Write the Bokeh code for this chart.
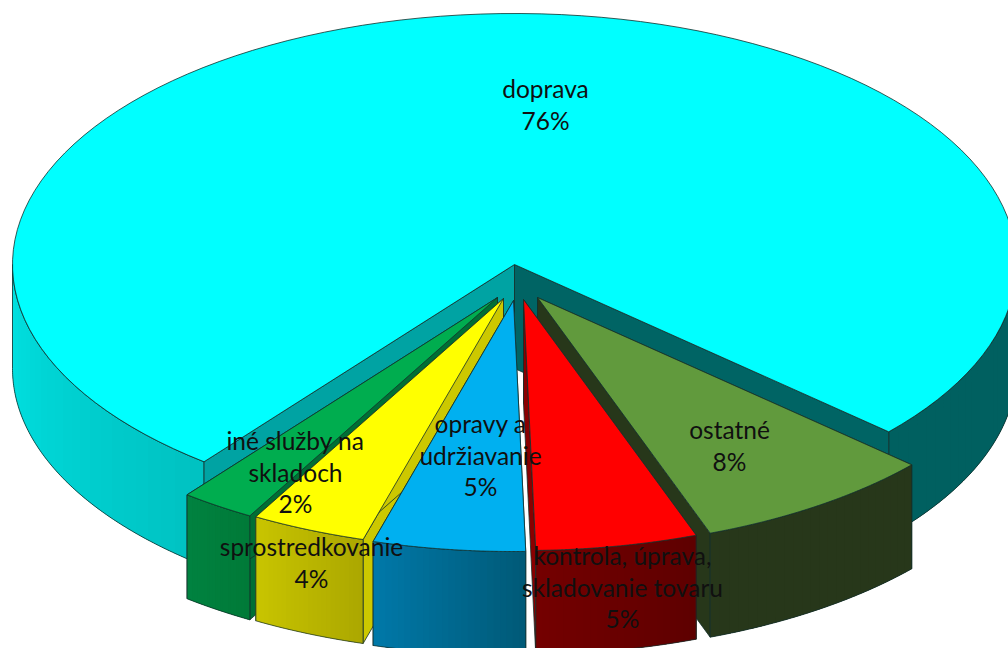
import numpy as np
from bokeh.plotting import figure
from bokeh.embed import file_html
from bokeh.resources import INLINE
from bokeh.core.properties import value

# ---- data ----
categories = ["ostatné", "kontrola, úprava, skladovanie tovaru", "opravy a udržiavanie",
              "sprostredkovanie", "iné služby na skladoch"]
shares = [7.8, 5.2, 4.9, 3.7, 2.4]
main_category = "doprava"
main_share = 76.0
label_lines = {
    "doprava": ["doprava"],
    "ostatné": ["ostatné"],
    "kontrola, úprava, skladovanie tovaru": ["kontrola, úprava,", "skladovanie tovaru"],
    "opravy a udržiavanie": ["opravy a", "udržiavanie"],
    "sprostredkovanie": ["sprostredkovanie"],
    "iné služby na skladoch": ["iné služby na", "skladoch"],
}

# ---- layout and style ----
CX, CY, RX, RY, DEPTH = 514, 264, 502, 251, 104
FIRST_EDGE = 48.2      # degrees from straight down, towards the right
EDGE = "#14302c"
explode = {"ostatné": (23, 33), categories[1]: (9, 35), categories[2]: (-1, 36),
           categories[3]: (-11, 34), categories[4]: (-17, 33)}
style = {  # top, wall gradient start, wall gradient end, radial wall
    "ostatné": ("#619A3D", "#27371A", "#27371A", "#27371A"),
    categories[1]: ("#FF0000", "#740000", "#5E0000", "#8A0000"),
    categories[2]: ("#00B0F0", "#0078A8", "#005A78", "#005A78"),
    categories[3]: ("#FFFF00", "#C8C400", "#ACA800", "#CCC800"),
    categories[4]: ("#00AD4F", "#008240", "#007A38", "#006F35"),
}
label_anchor = {"doprava": (545, 88), "ostatné": (729, 429), categories[1]: (622, 555),
                categories[2]: (480, 423), categories[3]: (311, 546), categories[4]: (295, 440)}
draw_order = [categories[4], categories[3], categories[2], categories[0], categories[1]]
LINE_STEP = 31.5

p = figure(width=1008, height=648, x_range=(0, 1008), y_range=(648, 0),
           output_backend="svg", toolbar_location=None, min_border=0)
p.axis.visible = False
p.grid.visible = False
p.outline_line_color = None
p.background_fill_color = "white"
p.border_fill_color = "white"


def arc(a1, a2, dx=0, dy=0, n=120):
    t = np.radians(np.linspace(a1, a2, n))
    return CX + dx + RX * np.sin(t), CY + dy + RY * np.cos(t)


def poly(xs, ys, fill, line=EDGE, width=0.8):
    p.patch(list(xs), list(ys), fill_color=fill, line_color=line, line_width=width)


def mix(c1, c2, f):
    a = [int(c1[i:i + 2], 16) for i in (1, 3, 5)]
    b = [int(c2[i:i + 2], 16) for i in (1, 3, 5)]
    return "#%02x%02x%02x" % tuple(round(u + (v - u) * f) for u, v in zip(a, b))


def outer_wall(a1, a2, c1, c2, dx=0, dy=0, steps=24):
    """Curved rim between two angles, shaded across its width."""
    x, y = arc(a1, a2, dx, dy)
    xs, ys = list(x) + list(x[::-1]), list(y) + list(y[::-1] + DEPTH)
    p.patch(xs, ys, fill_color=mix(c1, c2, 0.5), line_color=None)
    edges = np.linspace(a1, a2, steps + 1)
    for i in range(steps):
        # each band overlaps the next so that no seam shows between them
        sx, sy = arc(edges[i], edges[min(i + 2, steps)], dx, dy, 10)
        col = mix(c1, c2, i / (steps - 1))
        p.patch(list(sx) + list(sx[::-1]), list(sy) + list(sy[::-1] + DEPTH),
                fill_color=col, line_color=None)
    p.patch(xs, ys, fill_color=None, line_color=EDGE, line_width=0.8)


def radial_wall(a, fill, dx=0, dy=0):
    x, y = arc(a, a, dx, dy, 1)
    ax, ay = CX + dx, CY + dy
    poly([ax, x[0], x[0], ax], [ay, y[0], y[0] + DEPTH, ay + DEPTH], fill)


def top(a1, a2, fill, dx=0, dy=0):
    x, y = arc(a1, a2, dx, dy)
    poly([CX + dx] + list(x), [CY + dy] + list(y), fill)


# ---- main slice ----
to_deg = 360 / (sum(shares) + main_share)
last_edge = FIRST_EDGE - sum(shares) * to_deg
outer_wall(90, FIRST_EDGE, "#006060", "#006060")
outer_wall(-90, last_edge, "#00E2E2", "#00C2C2")
radial_wall(last_edge, "#00A3A3")
radial_wall(FIRST_EDGE, "#006464")
top(FIRST_EDGE, 360 + last_edge, "#00FFFF")

# ---- exploded slices ----
bounds = {}
a = FIRST_EDGE
for c, s in zip(categories, shares):
    bounds[c] = (a, a - s * to_deg)
    a -= s * to_deg

for c in draw_order:
    a1, a2 = bounds[c]
    dx, dy = explode[c]
    ctop, w1, w2, rad = style[c]
    radial_wall(a1, rad, dx, dy)
    radial_wall(a2, rad, dx, dy)
    outer_wall(a2, a1, w1, w2, dx, dy)
    top(a1, a2, ctop, dx, dy)

# ---- labels ----
all_shares = dict(zip(categories, shares))
all_shares[main_category] = main_share
for c, (lx, ly) in label_anchor.items():
    lines = label_lines[c] + [f"{round(all_shares[c])}%"]
    p.text([lx] * len(lines), [ly + i * LINE_STEP for i in range(len(lines))], text=lines,
           text_font=value("Lato"), text_font_size="24.5px", text_color="#101010",
           text_align="center", text_baseline="middle")

open("out.html", "w").write(file_html(p, INLINE))
